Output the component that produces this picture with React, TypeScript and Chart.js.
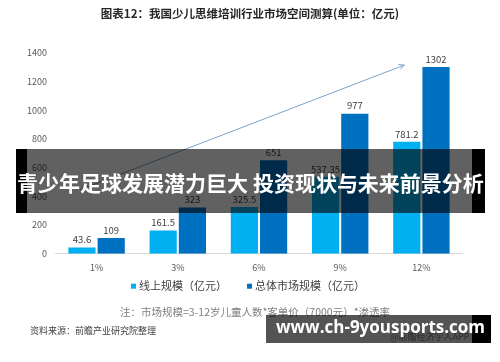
import React, { useEffect, useRef } from "react";
import { Chart, registerables } from "chart.js";

Chart.register(...registerables);

// ---- data ----
const categories = ["1%", "3%", "6%", "9%", "12%"];
const onlineValues = [43.6, 161.5, 325.5, 537.35, 781.2];
const totalValues = [109, 323, 651, 977, 1302];
const seriesNames = ["线上规模（亿元）", "总体市场规模（亿元）"];
const yTicks = [0, 200, 400, 600, 800, 1000, 1200, 1400];
// trend arrow in data coordinates: [category index, value]
const trendFrom = [-0.2, 447];
const trendTo = [3.79, 1316];

const titleText = "图表12：我国少儿思维培训行业市场空间测算(单位：亿元)";
const noteText = "注：市场规模=3-12岁儿童人数*客单价（7000元）*渗透率";
const sourceText = "资料来源：前瞻产业研究院整理";
const appText = "@前瞻经济学人APP";
const bannerText = "青少年足球发展潜力巨大 投资现状与未来前景分析";
const siteText = "www.ch-9yousports.com";

const LIGHT = "#00B0F0";
const DARK = "#0070C0";
const FONT = '"Noto Sans CJK SC", "Noto Sans", sans-serif';

const valueLabels = {
  id: "valueLabels",
  afterDatasetsDraw(chart: any) {
    const ctx = chart.ctx;
    ctx.save();
    ctx.font = `9.5px ${FONT}`;
    ctx.fillStyle = "#404040";
    ctx.textAlign = "center";
    ctx.textBaseline = "bottom";
    chart.data.datasets.forEach((ds: any, i: number) => {
      const meta = chart.getDatasetMeta(i);
      meta.data.forEach((el: any, j: number) => {
        ctx.fillText(String(ds.data[j]), el.x, el.y - 3);
      });
    });
    ctx.restore();
  },
};

const trendArrow = {
  id: "trendArrow",
  afterDatasetsDraw(chart: any) {
    const { ctx, scales } = chart;
    const x1 = scales.x.getPixelForValue(trendFrom[0]);
    const y1 = scales.y.getPixelForValue(trendFrom[1]);
    const x2 = scales.x.getPixelForValue(trendTo[0]);
    const y2 = scales.y.getPixelForValue(trendTo[1]);
    const ang = Math.atan2(y2 - y1, x2 - x1);
    ctx.save();
    ctx.strokeStyle = "#7ea3c6";
    ctx.lineWidth = 1;
    ctx.beginPath();
    ctx.moveTo(x1, y1);
    ctx.lineTo(x2, y2);
    ctx.moveTo(x2, y2);
    ctx.lineTo(x2 - 6 * Math.cos(ang - 0.45), y2 - 6 * Math.sin(ang - 0.45));
    ctx.moveTo(x2, y2);
    ctx.lineTo(x2 - 6 * Math.cos(ang + 0.45), y2 - 6 * Math.sin(ang + 0.45));
    ctx.stroke();
    ctx.restore();
  },
};

const customLegend = {
  id: "customLegend",
  afterDraw(chart: any) {
    const ctx = chart.ctx;
    ctx.save();
    ctx.font = `11px ${FONT}`;
    ctx.textBaseline = "middle";
    ctx.textAlign = "left";
    const box = 5;
    const gapBox = 3;
    const gapItem = 20;
    const items = chart.data.datasets.map((ds: any) => ({
      text: ds.label,
      color: ds.backgroundColor,
      w: ctx.measureText(ds.label).width,
    }));
    const total =
      items.reduce((s: number, it: any) => s + box + gapBox + it.w, 0) +
      gapItem * (items.length - 1);
    let x = 248 - total / 2;
    const y = chart.chartArea.bottom + 32.5;
    items.forEach((it: any) => {
      ctx.fillStyle = it.color;
      ctx.fillRect(x, y - box / 2, box, box);
      x += box + gapBox;
      ctx.fillStyle = "#404040";
      ctx.fillText(it.text, x, y);
      x += it.w + gapItem;
    });
    ctx.restore();
  },
};

const abs = (s: any): any => ({ position: "absolute", margin: 0, whiteSpace: "nowrap", ...s });

export default function App() {
  const ref = useRef<HTMLCanvasElement>(null);
  useEffect(() => {
    const canvas = ref.current!;
    const chart = new Chart(canvas, {
      type: "bar",
      data: {
        labels: categories,
        datasets: [
          {
            label: seriesNames[0],
            data: onlineValues,
            backgroundColor: LIGHT,
            categoryPercentage: 0.72,
            barPercentage: 0.93,
          },
          {
            label: seriesNames[1],
            data: totalValues,
            backgroundColor: DARK,
            categoryPercentage: 0.72,
            barPercentage: 0.93,
          },
        ],
      },
      options: {
        responsive: false,
        animation: false,
        devicePixelRatio: 1,
        layout: { padding: { left: 18, right: 38, top: 53, bottom: 81.5 } },
        plugins: {
          legend: { display: false },
          title: { display: false },
          tooltip: { enabled: false },
        },
        scales: {
          x: {
            grid: { display: false, drawTicks: false },
            border: { display: true, color: "#d9d9d9", width: 1 },
            ticks: { font: { size: 9, family: FONT }, color: "#595959", padding: 8 },
          },
          y: {
            min: 0,
            max: 1400,
            grid: { display: false, drawTicks: false },
            border: { display: false },
            afterBuildTicks: (axis: any) => {
              axis.ticks = yTicks.map((v) => ({ value: v }));
            },
            ticks: {
              font: { size: 9, family: FONT },
              color: "#595959",
              padding: 9,
              callback: (v: any) => String(v),
            },
          },
        },
      } as any,
      plugins: [trendArrow, valueLabels, customLegend],
    });
    return () => chart.destroy();
  }, []);

  return (
    <div
      style={{
        position: "absolute",
        left: 0,
        top: 0,
        width: 500,
        height: 362,
        background: "#ffffff",
        overflow: "hidden",
        fontFamily: FONT,
      }}
    >
      <canvas ref={ref} width={500} height={362} style={{ position: "absolute", left: 0, top: 0 }} />
      <div
        style={abs({
          left: 0,
          width: 500,
          top: 8,
          textAlign: "center",
          fontSize: 11.5,
          lineHeight: "11.5px",
          fontWeight: 700,
          color: "#262626",
        })}
      >
        {titleText}
      </div>
      <div style={abs({ left: 120, top: 307, fontSize: 10.5, lineHeight: "10.5px", color: "#7f7f7f" })}>
        {noteText}
      </div>
      <div style={abs({ left: 30, top: 326, fontSize: 9, lineHeight: "9px", color: "#404040" })}>
        {sourceText}
      </div>
      {/* banner */}
      <div style={abs({ left: 16, top: 149, width: 11, height: 64, background: "#000" })} />
      <div style={abs({ left: 27, top: 149, width: 445, height: 64, background: "rgba(0,0,0,0.62)" })} />
      <div style={abs({ left: 472, top: 149, width: 13, height: 64, background: "#000" })} />
      <div
        style={abs({
          left: 0,
          width: 501,
          top: 172,
          textAlign: "center",
          fontSize: 21,
          lineHeight: "21px",
          fontWeight: 700,
          color: "#ffffff",
        })}
      >
        {bannerText}
      </div>
      {/* site box */}
      <div style={abs({ left: 266, top: 315, width: 206, height: 28, background: "rgba(0,0,0,0.67)" })} />
      <div style={abs({ left: 472, top: 315, width: 19, height: 28, background: "#000" })} />
      <div style={abs({ left: 390, top: 332, fontSize: 9, lineHeight: "9px", color: "#2a2a2a" })}>
        {appText}
      </div>
      <div
        style={abs({
          left: 276,
          top: 318,
          fontSize: 17,
          lineHeight: "17px",
          fontWeight: 700,
          color: "#ffffff",
          fontFamily: '"Open Sans", sans-serif',
        })}
      >
        {siteText}
      </div>
    </div>
  );
}
